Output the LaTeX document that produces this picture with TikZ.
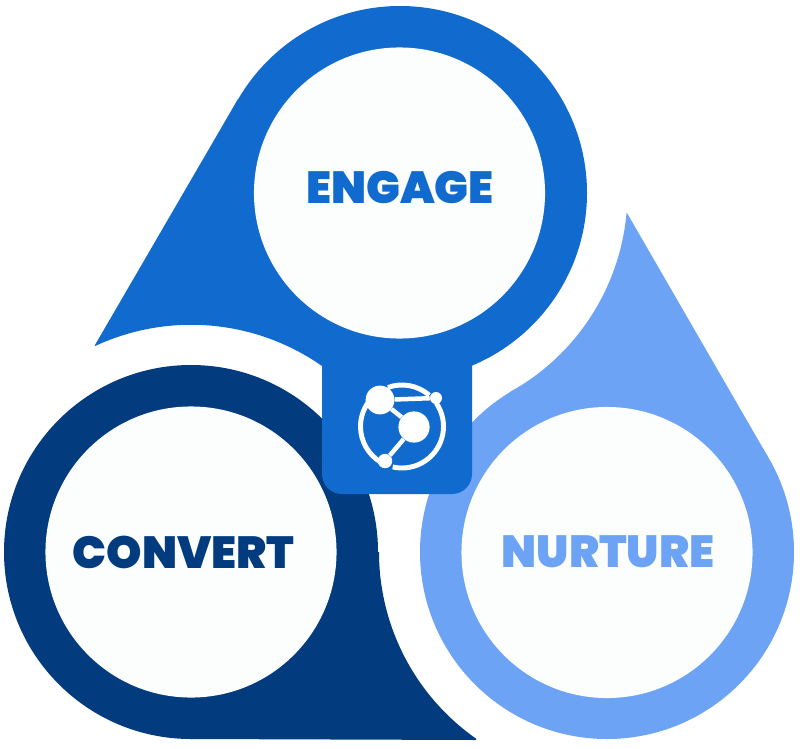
\documentclass[tikz,border=0pt]{standalone}
\usepackage{fontspec}
\setmainfont{Poppins}[BoldFont=* Black]
\usetikzlibrary{positioning,calc}
\definecolor{engageblue}{RGB}{17,107,207}
\definecolor{convertblue}{RGB}{2,60,127}
\definecolor{nurtureblue}{RGB}{108,163,245}
\definecolor{paper}{RGB}{252,254,254}
\tikzset{
  stagedisc/.style={circle,fill=paper,inner sep=0pt,minimum size=7.275cm},
  stagelabel/.style={inner sep=0pt,font=\fontsize{32}{32}\selectfont\bfseries},
  hubdot/.style={circle,fill=white,inner sep=0pt},
  hubline/.style={draw=white,line width=3.2pt},
  hubarc/.style={white,line width=3.5pt}
}
\begin{document}
\begin{tikzpicture}[x=0.025cm,y=-0.025cm]
\useasboundingbox (0,0) rectangle (800,748);
\fill[white] (0,0) rectangle (800,748);
\fill[nurtureblue] (607,552) circle[radius=187];
\fill[nurtureblue] (627,213) -- (768,457) -- (607,552) -- (510,392) arc[start angle=61,end angle=5,radius=228] -- cycle;
\fill[convertblue] (191,552) circle[radius=187];
\fill[convertblue] (476,740) -- (191,739) -- (191,552) -- (379,552) arc[start angle=180,end angle=125,radius=228] -- cycle;
\fill[engageblue] (400,193) circle[radius=187];
\fill[engageblue] (95,345) -- (238,99) -- (400,193) -- (322,366) arc[start angle=-55,end angle=-115,radius=228] -- cycle;
\fill[engageblue,rounded corners=0.5cm] (322,330) rectangle (472,494);
\node[stagedisc] (engage) at (399.5,193) {};
\node[stagedisc] (convert) at (191,552) {};
\node[stagedisc] (nurture) at (607,552.5) {};
\node[stagelabel,text=engageblue] (engagetext) at (400,188) {ENGAGE};
\node[stagelabel,text=convertblue] (converttext) at (183.5,552) {CONVERT};
\node[stagelabel,text=nurtureblue] (nurturetext) at (608,552) {NURTURE};
% hub icon
\coordinate (hubring) at (402,426.5);
\draw[hubarc] ([shift={(hubring)}]-110:41.5) arc[start angle=-110,end angle=-49,radius=41.5];
\draw[hubarc] ([shift={(hubring)}]-34:41.5) arc[start angle=-34,end angle=103,radius=41.5];
\draw[hubarc] ([shift={(hubring)}]120:41.5) arc[start angle=120,end angle=215,radius=41.5];
\node[hubdot,minimum size=0.72cm] (huba) at (380,400) {};
\node[hubdot,minimum size=0.78cm] (hubb) at (414,427) {};
\node[hubdot,minimum size=0.36cm] (hubc) at (385,461) {};
\node[hubdot,minimum size=0.3cm] (hubd) at (436,398) {};
\draw[hubline] (huba) -- (hubb);
\draw[hubline] (hubb) -- (hubc);
\draw[hubline] (huba) -- (hubd);
\end{tikzpicture}
\end{document}
